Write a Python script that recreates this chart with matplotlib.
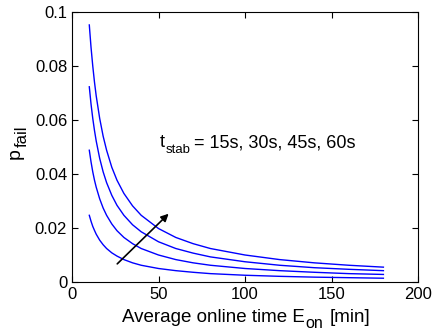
import matplotlib
matplotlib.use('Agg')
import matplotlib.pyplot as plt

plt.rcParams['font.family'] = ['Liberation Sans', 'DejaVu Sans']

W, H = 432, 330

# average online time E_on [min]
e_on = [10, 11, 12, 13, 14, 16, 18, 20, 23, 26, 30, 35, 40, 50, 60, 70, 80, 100, 120, 140, 160, 180]

# p_fail, one list per t_stab
p_15s = [0.0247, 0.0225, 0.0206, 0.0191, 0.0177, 0.0155, 0.0138, 0.0124, 0.0108, 0.0096, 0.0083,
         0.0071, 0.0062, 0.0050, 0.0042, 0.0036, 0.0031, 0.0025, 0.0021, 0.0018, 0.0016, 0.0014]
p_30s = [0.0488, 0.0445, 0.0408, 0.0377, 0.0351, 0.0308, 0.0274, 0.0247, 0.0215, 0.0190, 0.0165,
         0.0142, 0.0124, 0.0100, 0.0083, 0.0071, 0.0062, 0.0050, 0.0042, 0.0036, 0.0031, 0.0028]
p_45s = [0.0723, 0.0659, 0.0606, 0.0561, 0.0522, 0.0458, 0.0408, 0.0368, 0.0321, 0.0284, 0.0247,
         0.0212, 0.0186, 0.0149, 0.0124, 0.0107, 0.0093, 0.0075, 0.0062, 0.0053, 0.0047, 0.0042]
p_60s = [0.0952, 0.0869, 0.0800, 0.0740, 0.0689, 0.0606, 0.0540, 0.0488, 0.0425, 0.0377, 0.0328,
         0.0282, 0.0247, 0.0198, 0.0165, 0.0142, 0.0124, 0.0100, 0.0083, 0.0071, 0.0062, 0.0055]

fig = plt.figure(figsize=(W / 100, H / 100), dpi=100)
ax = fig.add_axes([72 / W, 1 - 282 / H, 346 / W, 270 / H])

for p in [p_15s, p_30s, p_45s, p_60s]:
    ax.plot(e_on, p, color='b', linewidth=1)

ax.annotate('', xy=(57, 0.026), xytext=(25, 0.006),
            arrowprops=dict(arrowstyle='-|>', color='k', lw=1.2, mutation_scale=11))

ax.set_xlim(0, 200)
ax.set_ylim(0, 0.1)
ax.set_xticks([0, 50, 100, 150, 200])
ax.set_yticks([0, 0.02, 0.04, 0.06, 0.08, 0.1])
ax.set_yticklabels(['0', '0.02', '0.04', '0.06', '0.08', '0.1'])
ax.tick_params(direction='in', labelsize=12, top=True, right=True, length=4)

renderer = fig.canvas.get_renderer()


def rich_text(pieces, x, y, rot=0, center=False):
    # pieces: (text, fontsize, drop in px, gap before in px); x, y in pixels from top-left
    arts = []
    widths = []
    for s, size, drop, gap in pieces:
        t = fig.text(0, 0, s, fontsize=size, rotation=rot, ha='left', va='baseline',
                     rotation_mode='anchor')
        bb = t.get_window_extent(renderer)
        arts.append(t)
        widths.append((bb.height if rot else bb.width) + gap)
    total = sum(widths)
    if rot == 0:
        pos = x - total / 2 if center else x
    else:
        pos = (H - y) - total / 2 if center else (H - y)
    for t, w, (s, size, drop, gap) in zip(arts, widths, pieces):
        pos += gap
        if rot == 0:
            t.set_position((pos / W, (H - y - drop) / H))
        else:
            t.set_position(((x + drop) / W, pos / H))
        pos += w - gap


rich_text([('Average online time E', 13.5, 0, 0), ('on', 11.5, 6, 1), ('[min]', 13.5, 0, 6)],
          246, 322, center=True)
rich_text([('p', 14, 0, 0), ('fail', 12, 7, 1)], 20, 142, rot=90, center=True)
rich_text([('t', 13, 0, 0), ('stab', 9.5, 6, 1), ('= 15s, 30s, 45s, 60s', 13, 0, 3)], 160, 147)

fig.savefig('out.png', dpi=100)
